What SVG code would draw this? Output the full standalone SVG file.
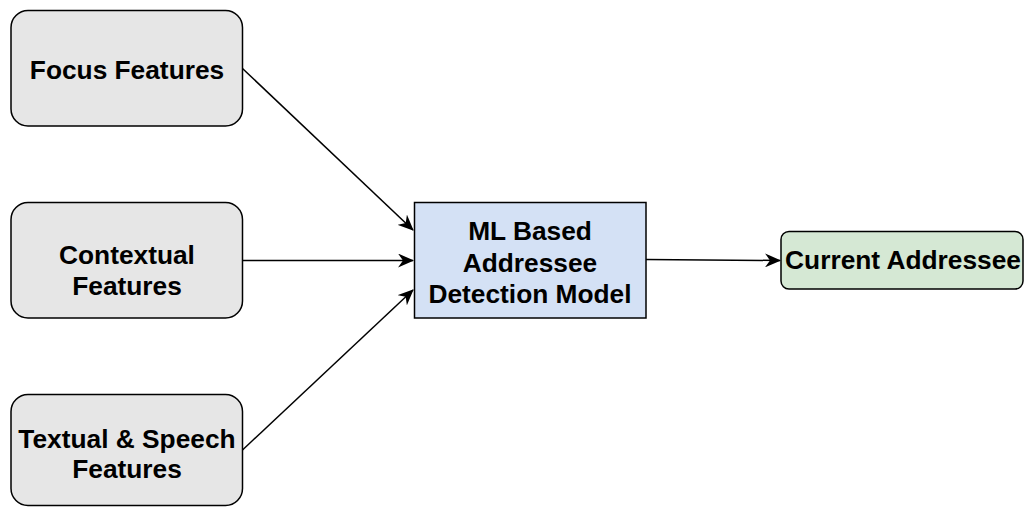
<svg xmlns="http://www.w3.org/2000/svg" width="1025" height="507" viewBox="0 0 1025 507">
<defs>
<style>
.box{stroke:#000;stroke-width:1.5}
.in{fill:#e6e6e6}
.ml{fill:#d4e1f5}
.out{fill:#d5e8d4}
.t{font-family:"Liberation Sans",Arial,Helvetica,sans-serif;font-weight:bold;font-size:26.3px;fill:#000;text-anchor:middle}
.c{fill:none;stroke:#000;stroke-width:1.5}
</style>
<marker id="arr" markerWidth="16" markerHeight="14" viewBox="0 0 16 14" refX="15" refY="7" orient="auto" markerUnits="userSpaceOnUse">
<path d="M0,0 L16,7 L0,14 L5,7 Z" fill="#000"/>
</marker>
</defs>
<rect width="1025" height="507" fill="#fff"/>
<g id="connectors">
<line class="c" x1="242.5" y1="68.5" x2="413" y2="230" marker-end="url(#arr)"/>
<line class="c" x1="242.5" y1="260.5" x2="413" y2="260.5" marker-end="url(#arr)"/>
<line class="c" x1="242.5" y1="450" x2="413" y2="290" marker-end="url(#arr)"/>
<line class="c" x1="646" y1="259.5" x2="780" y2="260.5" marker-end="url(#arr)"/>
</g>
<g id="focus">
<rect class="box in" x="11" y="10.5" width="231.5" height="115.5" rx="17"/>
<text class="t" x="127" y="79">Focus Features</text>
</g>
<g id="contextual">
<rect class="box in" x="11" y="202.5" width="231.5" height="115.5" rx="17"/>
<text class="t" x="127" y="264">Contextual</text>
<text class="t" x="127" y="295">Features</text>
</g>
<g id="textual">
<rect class="box in" x="11" y="394.5" width="231.5" height="111" rx="17"/>
<text class="t" x="127" y="448">Textual &amp; Speech</text>
<text class="t" x="127" y="478">Features</text>
</g>
<g id="ml">
<rect class="box ml" x="414.5" y="202.5" width="231.5" height="115.5"/>
<text class="t" x="530" y="240">ML Based</text>
<text class="t" x="530" y="272">Addressee</text>
<text class="t" x="530" y="303">Detection Model</text>
</g>
<g id="current">
<rect class="box out" x="781" y="231.5" width="242" height="57.5" rx="8"/>
<text class="t" x="903" y="269">Current Addressee</text>
</g>
</svg>
